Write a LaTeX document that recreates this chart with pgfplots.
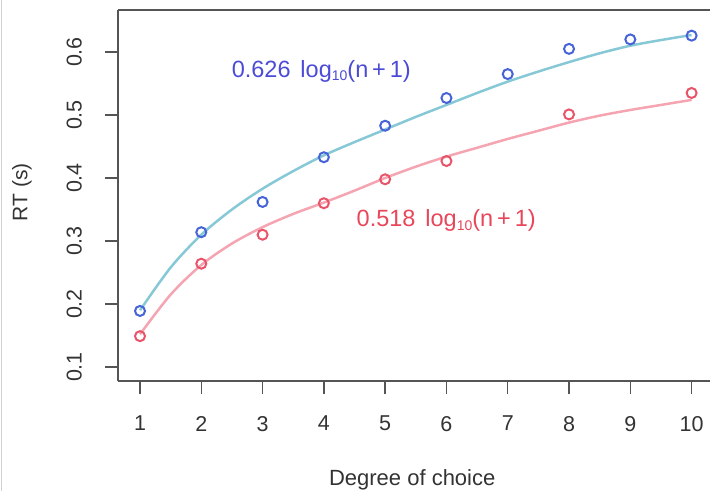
\documentclass[border=0pt]{standalone}
\usepackage{fontspec}
\setmainfont{Liberation Sans}
\usepackage{pgfplots}
\pgfplotsset{compat=1.18}

\definecolor{ptblue}{RGB}{70,100,215}
\definecolor{ptred}{RGB}{232,85,105}
\definecolor{fitblue}{RGB}{135,200,215}
\definecolor{fitred}{RGB}{245,165,178}
\definecolor{axgray}{RGB}{85,85,85}
\definecolor{txtblue}{RGB}{75,75,215}
\definecolor{txtred}{RGB}{232,70,90}

\newcommand{\sub}[1]{\raisebox{-3.5pt}{\fontsize{14}{14}\selectfont #1}}

\begin{document}
\fontsize{20}{24}\selectfont
\begin{tikzpicture}
\useasboundingbox (-118pt,-110pt) rectangle (592pt,381pt);
\draw[gray!35, line width=1.5pt] (-116.5pt,-110pt) -- (-116.5pt,381pt);
\begin{axis}[
    at={(0,0)}, anchor=south west,
    scale only axis, width=592pt, height=371pt,
    xmin=0.641, xmax=10.30, ymin=0.0778, ymax=0.6667,
    axis x line*=bottom, axis y line*=left,
    axis line style={axgray, line width=1.4pt},
    tick align=outside, major tick length=13pt,
    tick style={axgray, line width=1.4pt},
    xtick={1,...,10}, xticklabels={1,2,3,4,5,6,7,8,9,10},
    ytick={0.1,0.2,0.3,0.4,0.5,0.6}, yticklabels={0.1,0.2,0.3,0.4,0.5,0.6},
    ticklabel style={text=black!80, font=\fontsize{21.5}{24}\selectfont, inner sep=0pt},
    xticklabel style={anchor=north},
    xticklabel shift=22pt,
    yticklabel style={rotate=90, anchor=south},
    yticklabel shift=23pt,
    every axis x label/.style={at={([yshift=-88pt]axis description cs:0.497,0)}, anchor=north, inner sep=0pt, text=black!80, font=\fontsize{22}{24}\selectfont},
    every axis y label/.style={at={([xshift=-86pt]axis description cs:0,0.509)}, rotate=90, anchor=south, inner sep=0pt, text=black!80, font=\fontsize{21}{24}\selectfont},
    xlabel={Degree of choice},
    ylabel={RT (s)},
    clip=false,
]
% fitted curves
\addplot[fitblue, line width=2.5pt, smooth] coordinates {
  (1,0.190) (1.5,0.258) (2,0.310) (2.5,0.350) (3,0.383) (3.5,0.411)
  (4,0.436) (4.5,0.457) (5,0.477) (5.5,0.497) (6,0.516) (6.5,0.535)
  (7,0.553) (7.5,0.569) (8,0.584) (8.5,0.598) (9,0.610) (9.5,0.619) (10,0.627)};
\addplot[fitred, line width=2.5pt, smooth] coordinates {
  (1,0.152) (1.5,0.215) (2,0.262) (2.5,0.296) (3,0.322) (3.5,0.343)
  (4,0.361) (4.5,0.380) (5,0.400) (5.5,0.418) (6,0.434) (6.5,0.448)
  (7,0.462) (7.5,0.475) (8,0.488) (8.5,0.499) (9,0.508) (9.5,0.516) (10,0.524)};
% observed points
\addplot[only marks, mark=o, mark size=5pt, ptblue, line width=2pt] coordinates {
  (1,0.189) (2,0.314) (3,0.362) (4,0.433) (5,0.483)
  (6,0.527) (7,0.565) (8,0.605) (9,0.620) (10,0.626)};
\addplot[only marks, mark=o, mark size=5pt, ptred, line width=2pt] coordinates {
  (1,0.149) (2,0.264) (3,0.310) (4,0.360) (5,0.398)
  (6,0.427) (8,0.501) (10,0.535)};
\draw[axgray, line width=1.4pt] (rel axis cs:0,1) -- (rel axis cs:1,1);
\node[anchor=base west, text=txtblue, inner sep=0pt, font=\fontsize{23.5}{26}\selectfont] at (axis cs:2.495,0.560)
  {0.626\hspace{0.42em}log\sub{10}(n\,+\,1)};
\node[anchor=base west, text=txtred, inner sep=0pt, font=\fontsize{23.5}{26}\selectfont] at (axis cs:4.533,0.323)
  {0.518\hspace{0.42em}log\sub{10}(n\,+\,1)};
\end{axis}
\end{tikzpicture}
\end{document}
